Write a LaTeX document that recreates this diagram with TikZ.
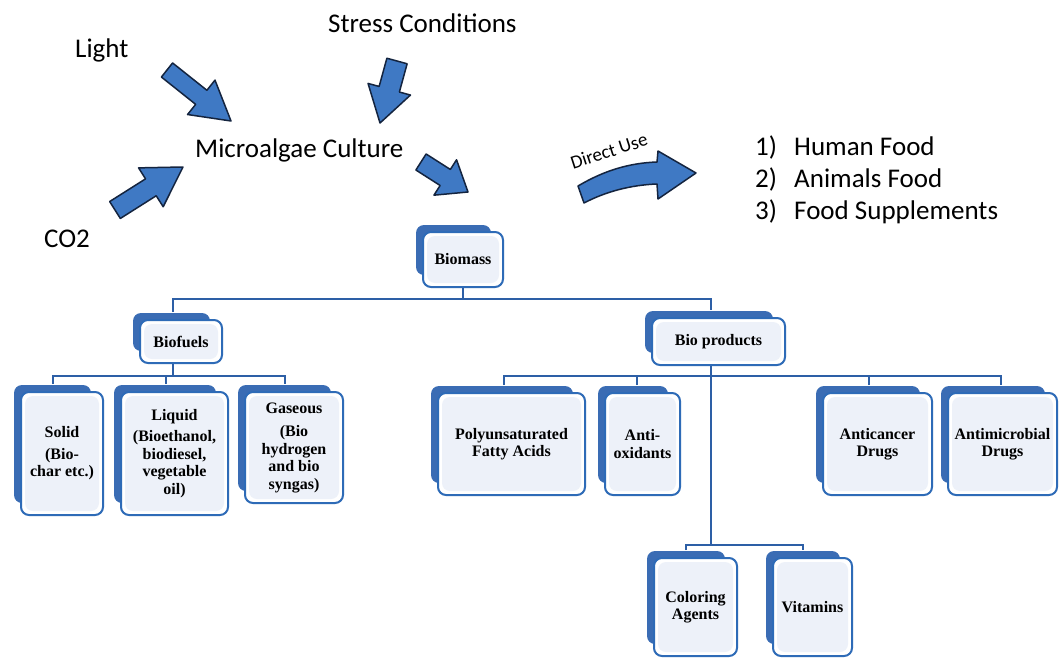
\documentclass[tikz,border=0pt]{standalone}
\usepackage{fontspec}
\setmainfont{Liberation Serif}
\newfontfamily\calfont{Carlito}
\usetikzlibrary{calc}
\definecolor{arrowblue}{HTML}{3F79C4}
\definecolor{arrowedge}{HTML}{14243F}
\definecolor{backc}{HTML}{3A6CB4}
\definecolor{boxedge}{HTML}{2E6BB7}
\definecolor{innerc}{HTML}{EDF1F9}
\definecolor{connc}{HTML}{2D5FA6}
\tikzset{
  barrow/.style={fill=arrowblue, draw=arrowedge, line width=1.5pt, line join=round},
  conn/.style={draw=connc, line width=2pt},
  sanslbl/.style={font=\calfont\fontsize{27}{31}\selectfont, inner sep=0pt, anchor=base west},
  fbox/.style={draw=boxedge, line width=2pt, fill=white, rounded corners=8pt, inner sep=0pt,
    align=center, font=\fontsize{16}{17.5}\selectfont\bfseries,
    path picture={\fill[innerc] ([shift={(4pt,-4pt)}]path picture bounding box.north west)
      rectangle ([shift={(-4pt,4pt)}]path picture bounding box.south east);}},
}
\newcommand\blockarr[5]{%
  \coordinate (ba-c) at ($(#2)!#5pt!(#1)$);
  \filldraw[barrow] ($(#1)!#3pt!90:(#2)$) -- ($(ba-c)!#3pt!90:(#2)$) -- ($(ba-c)!#4pt!90:(#2)$)
    -- (#2) -- ($(ba-c)!#4pt!-90:(#2)$) -- ($(ba-c)!#3pt!-90:(#2)$) -- ($(#1)!#3pt!-90:(#2)$) -- cycle;
}
\newcommand\bx[6]{%
  \fill[backc, rounded corners=8pt] ({#2-7},{#3-7}) rectangle ({#4-12},{#5-12});
  \node[fbox, minimum width={#4-#2}, minimum height={#5-#3}] (#1) at ({(#2+#4)/2},{(#3+#5)/2}) {#6};
}
\begin{document}
\begin{tikzpicture}[x=1pt,y=-1pt]
\useasboundingbox (0,0) rectangle (1059,661);
\fill[white] (0,0) rectangle (1059,661);

% top labels
\node[sanslbl] (light) at (75,58) {Light};
\node[sanslbl] (stress) at (328,33) {Stress Conditions};
\node[sanslbl] (culture) at (195,157) {Microalgae Culture};
\node[sanslbl] (co2) at (44,247) {CO2};
\node[font=\calfont\fontsize{19}{22}\selectfont, rotate=18, inner sep=0pt] (direct) at (609,151) {Direct Use};
\node[sanslbl] (n1) at (755,155) {1)};
\node[sanslbl] (l1) at (794,155) {Human Food};
\node[sanslbl] (n2) at (755,187) {2)};
\node[sanslbl] (l2) at (794,187) {Animals Food};
\node[sanslbl] (n3) at (755,219) {3)};
\node[sanslbl] (l3) at (794,219) {Food Supplements};

% block arrows
\blockarr{167,70}{231,121}{9}{22}{38}
\blockarr{397,61}{380,123}{10.5}{22}{35}
\blockarr{115,210}{183,167}{10}{23}{38}
\blockarr{421,162}{468,192}{9.5}{21}{27}
\filldraw[barrow] (578,186) .. controls (605,170) and (630,163) .. (657,162) -- (658,151) -- (696,173)
  -- (658,199) -- (657,184) .. controls (630,185) and (605,192) .. (584,203) -- cycle;

% boxes
\bx{biomass}{423}{232}{503}{287}{Biomass}
\bx{biofuels}{140}{320}{222}{363}{Biofuels}
\bx{bioprod}{652}{318}{785}{365}{Bio products}
\bx{solid}{21}{392}{103}{515}{Solid\\[4pt](Bio-\\char etc.)}
\bx{liquid}{121}{392}{228}{515}{Liquid\\[4pt](Bioethanol,\\biodiesel,\\vegetable\\oil)}
\bx{gaseous}{245}{392}{343}{503}{Gaseous\\[6pt](Bio\\hydrogen\\and bio\\syngas)}
\bx{pufa}{438}{393}{585}{495}{Polyunsaturated\\Fatty Acids}
\bx{antiox}{605}{393}{680}{495}{Anti-\\oxidants}
\bx{anticancer}{823}{393}{932}{495}{Anticancer\\Drugs}
\bx{antimic}{948}{393}{1057}{495}{Antimicrobial\\Drugs}
\bx{coloring}{654}{558}{737}{656}{Coloring\\Agents}
\bx{vitamins}{773}{558}{852}{656}{Vitamins}

% connectors
\draw[conn] (biomass.south) -- ++(0,11) coordinate (j1);
\draw[conn] ([shift={(-8pt,7pt)}]biofuels.north) |- (j1) -| ([shift={(-8pt,7pt)}]bioprod.north);

\draw[conn] ([xshift=-8pt]biofuels.south) -- ++(0,12) coordinate (j2);
\draw[conn] ([shift={(-9pt,7pt)}]solid.north) |- (j2) -| ([shift={(-9pt,7pt)}]gaseous.north);
\draw[conn] ([shift={(-9pt,7pt)}]liquid.north) |- (j2);

\draw[conn] ([xshift=-8pt]bioprod.south) -- ++(0,10) coordinate (j3);
\draw[conn] ([shift={(-8pt,7pt)}]pufa.north) |- (j3) -| ([shift={(-2pt,7pt)}]antimic.north);
\draw[conn] ([shift={(-6pt,7pt)}]antiox.north) |- (j3);
\draw[conn] ([shift={(-9pt,7pt)}]anticancer.north) |- (j3);
\draw[conn] (j3) -- ++(0,169) coordinate (j4);
\draw[conn] ([shift={(-10pt,7pt)}]coloring.north) |- (j4) -| ([shift={(-10pt,7pt)}]vitamins.north);
\end{tikzpicture}
\end{document}
